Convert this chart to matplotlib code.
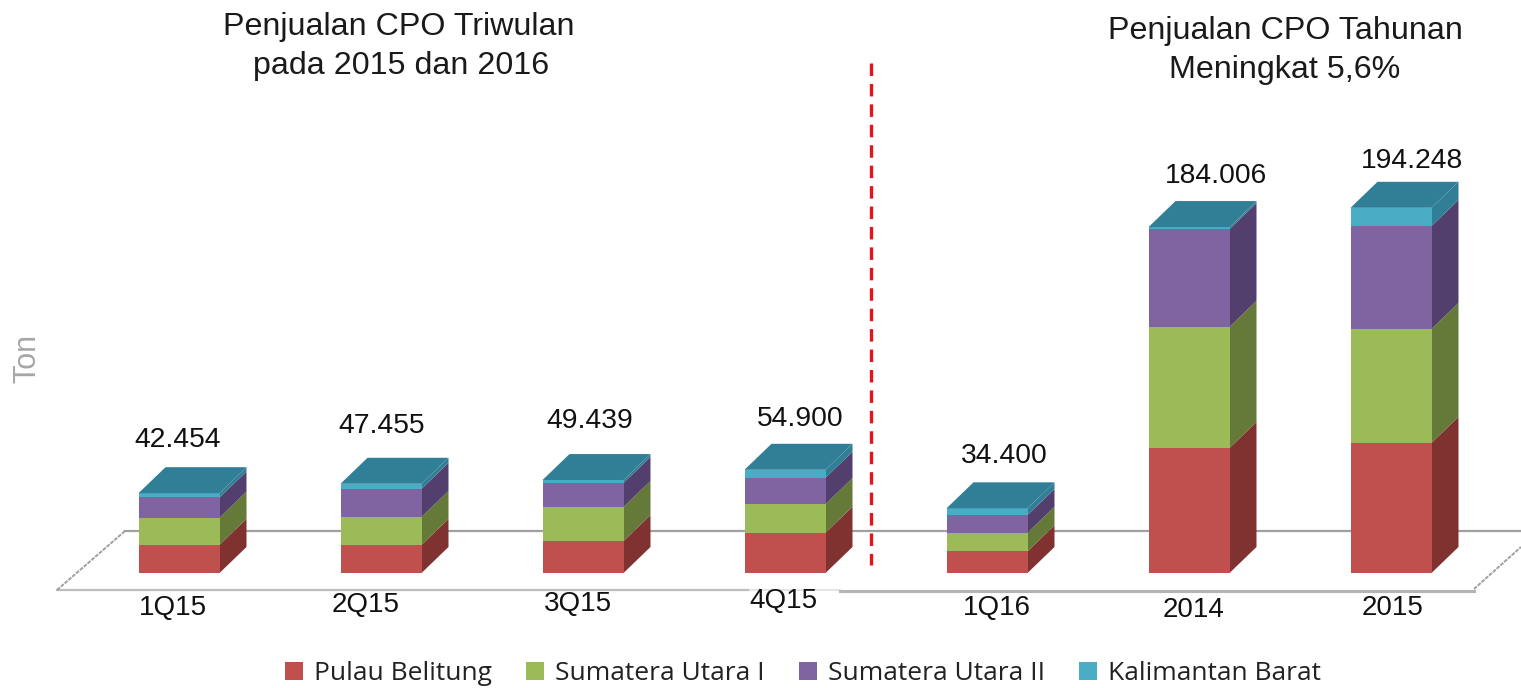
import matplotlib
matplotlib.use("Agg")
import matplotlib.pyplot as plt
import numpy as np

# data (ton)
categories = ["1Q15", "2Q15", "3Q15", "4Q15", "1Q16", "2014", "2015"]
total_labels = ["42.454", "47.455", "49.439", "54.900", "34.400", "184.006", "194.248"]
pulau_belitung = [15000, 14900, 17000, 21400, 11500, 66500, 69200]
sumatera_utara_1 = [14400, 14900, 18100, 15200, 9900, 64400, 60600]
sumatera_utara_2 = [10800, 14950, 12800, 14100, 9400, 52000, 54800]
kalimantan_barat = [2254, 2705, 1539, 4200, 3600, 1106, 9648]

series_names = ["Pulau Belitung", "Sumatera Utara I", "Sumatera Utara II", "Kalimantan Barat"]
series_values = [pulau_belitung, sumatera_utara_1, sumatera_utara_2, kalimantan_barat]

front_colors = ["#C0504D", "#9BBB59", "#8064A2", "#4BACC6"]
side_colors = ["#7F3230", "#657A38", "#533F6E", "#317F96"]
top_color = "#317F96"

W, H = 1521, 688
PX_PER_STEP = 202.0   # pixels between two bars
X0 = 179              # pixel of first bar centre
Y0 = 573              # pixel of the zero line
PX_PER_TON = 0.00188


def px(x, y):
    # pixel of the reference -> data coordinates
    return (x - X0) / PX_PER_STEP, (Y0 - y) / PX_PER_TON


fig = plt.figure(figsize=(W / 100, H / 100), dpi=100)
ax = fig.add_axes([0, 0, 1, 1])
ax.set_xlim(px(0, 0)[0], px(W, 0)[0])
ax.set_ylim(px(0, H)[1], px(0, 0)[1])
ax.axis("off")

plt.rcParams["font.family"] = ["Liberation Sans", "DejaVu Sans"]

# floor of the 3d chart
fx, fy = zip(*[px(125, 531), px(W, 531)])
ax.plot(fx, fy, color="#A0A0A0", lw=1.6, zorder=1)
fx, fy = zip(*[px(57, 590), px(750, 590)])
ax.plot(fx, fy, color="#BDBDBD", lw=1.6, zorder=1)
fx, fy = zip(*[px(750, 590), px(840, 590)])
ax.plot(fx, fy, color="#E4E4E4", lw=1.4, zorder=1)
fx, fy = zip(*[px(840, 590.5), px(1474, 590.5)])
ax.plot(fx, fy, color="#B4B4B4", lw=2.2, zorder=1)
fx, fy = zip(*[px(57, 590), px(125, 531)])
ax.plot(fx, fy, color="#A0A0A0", lw=1.4, ls=(0, (2, 0.6)), zorder=1)
fx, fy = zip(*[px(1474, 589), px(W, 547)])
ax.plot(fx, fy, color="#A0A0A0", lw=1.4, ls=(0, (2, 0.6)), zorder=1)

# bars, front + side + top
bar_w = 81 / PX_PER_STEP
dep_x = 27 / PX_PER_STEP
dep_y = 26 / PX_PER_TON
pos = np.arange(len(categories))
bottom = np.zeros(len(categories))
for vals, name, fc, sc in zip(series_values, series_names, front_colors, side_colors):
    vals = np.array(vals, dtype=float)
    ax.bar(pos, vals, bar_w, bottom=bottom, color=fc, label=name, zorder=3, linewidth=0)
    for i in pos:
        r = i + bar_w / 2
        ax.fill([r, r + dep_x, r + dep_x, r],
                [bottom[i], bottom[i] + dep_y, bottom[i] + vals[i] + dep_y, bottom[i] + vals[i]],
                color=sc, lw=0, zorder=2.5)
    bottom = bottom + vals

for i in pos:
    l, r = i - bar_w / 2, i + bar_w / 2
    ax.fill([l, r, r + dep_x, l + dep_x],
            [bottom[i], bottom[i], bottom[i] + dep_y, bottom[i] + dep_y],
            color=top_color, lw=0, zorder=3)

# totals and category names, they wander a bit in the source
total_xy = [(178, 440), (382, 426), (590, 421), (800, 419), (1004, 456), (1216, 176), (1412, 161)]
cat_xy = [(173, 608), (366, 605), (578, 604), (783, 601), (997, 608), (1194, 610), (1393, 608)]
for s, p in zip(total_labels, total_xy):
    ax.text(*px(*p), s, fontsize=20.3, ha="center", va="center", color="#111111", zorder=5)
for s, p in zip(categories, cat_xy):
    ax.text(*px(*p), s, fontsize=20, ha="center", va="center", color="#111111", zorder=5)

# titles
ax.text(*px(399, 27), "Penjualan CPO Triwulan", fontsize=23.2, ha="center", va="center", color="#1A1A1A")
ax.text(*px(401, 66), "pada 2015 dan 2016", fontsize=23.2, ha="center", va="center", color="#1A1A1A")
ax.text(*px(1285, 31), "Penjualan CPO Tahunan", fontsize=23.2, ha="center", va="center", color="#1A1A1A")
ax.text(*px(1285, 70), "Meningkat 5,6%", fontsize=23.2, ha="center", va="center", color="#1A1A1A")
ax.text(*px(27, 358), "Ton", fontsize=22, rotation=90, ha="center", va="center", color="#A6A6A6")

# red separator
lx, ly = zip(*[px(871, 63), px(871, 565)])
ax.plot(lx, ly, color="#E3141E", lw=2.4, ls=(0, (3.75, 2.38)), zorder=6)

# legend
handles, labels = ax.get_legend_handles_labels()
leg = ax.legend(handles, labels, ncol=4, loc="center", frameon=False,
                bbox_to_anchor=(803 / W, 1 - 674 / H),
                prop={"family": ["Open Sans", "DejaVu Sans"], "size": 19},
                handlelength=0.68, handleheight=0.68, handletextpad=0.42, columnspacing=1.3,
                labelcolor="#222222")

fig.savefig("out.png", dpi=100)
